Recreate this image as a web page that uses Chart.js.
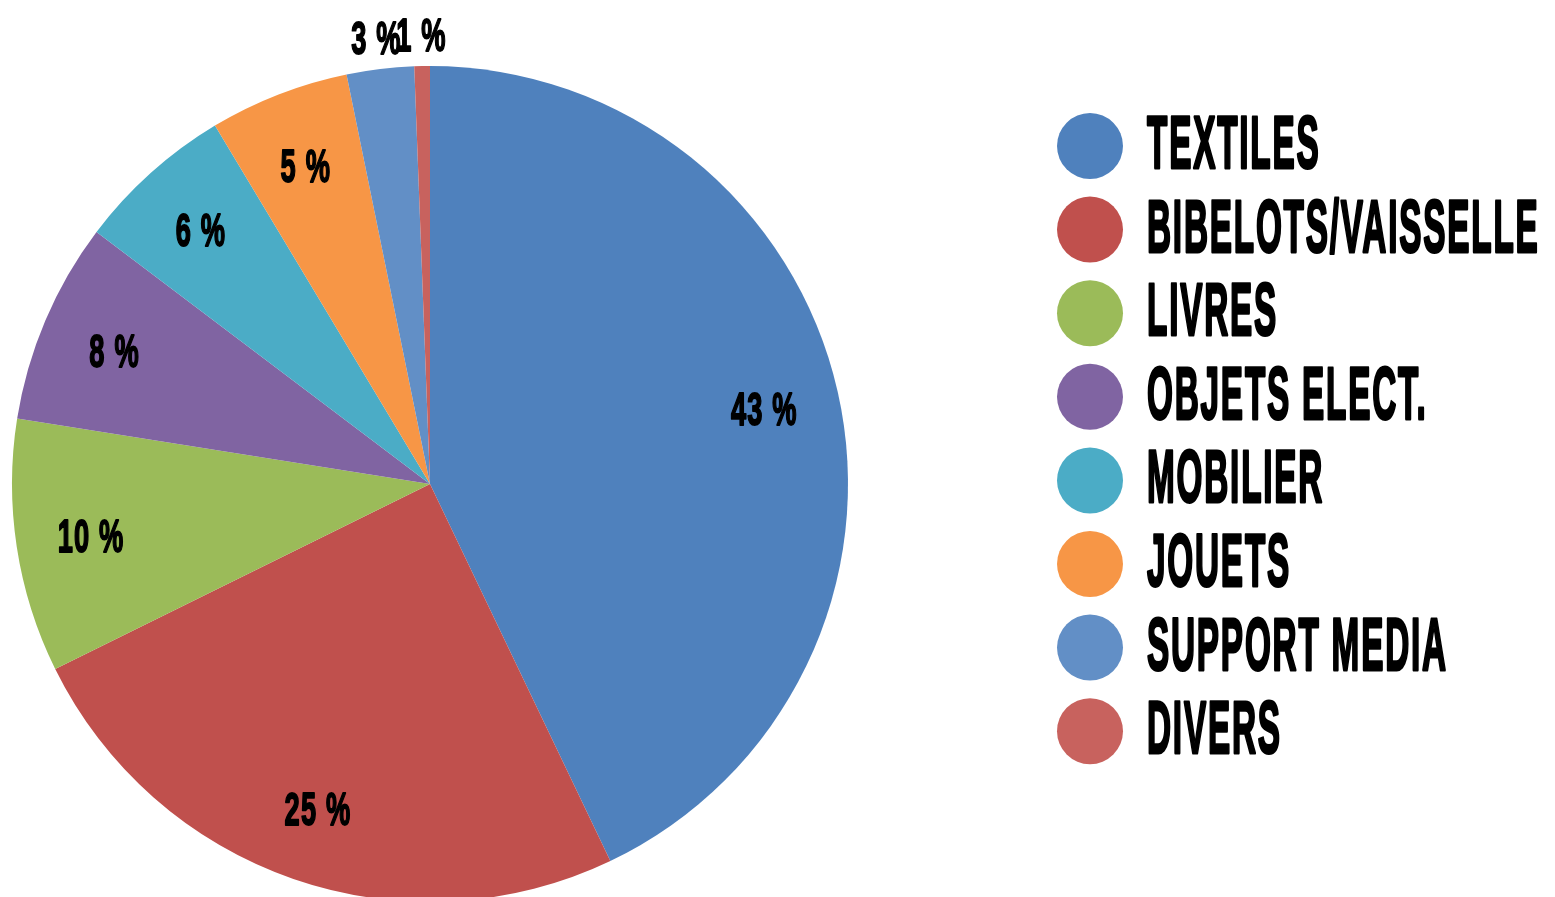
<!DOCTYPE html>
<html>
<head>
<meta charset="utf-8">
<script src="https://cdn.jsdelivr.net/npm/chart.js@4.4.1/dist/chart.umd.min.js"></script>
<style>
  html, body { margin: 0; padding: 0; background: #fff; overflow: hidden; }
  #wrap { position: absolute; left: 0; top: 0; width: 1555px; height: 940px; }
</style>
</head>
<body>
<div id="wrap"><canvas id="piechart"></canvas></div>
<script>
const categories = ['TEXTILES', 'BIBELOTS/VAISSELLE', 'LIVRES', 'OBJETS ELECT.', 'MOBILIER', 'JOUETS', 'SUPPORT MEDIA', 'DIVERS'];
const shares = [42.9, 24.8, 9.8, 7.8, 6.1, 5.4, 2.6, 0.6];
const sliceColors = ['#4F81BD', '#C0504D', '#9BBB59', '#8064A2', '#4BACC6', '#F79646', '#628FC6', '#C8625E'];

const FONT = '"Liberation Sans", Arial, sans-serif';

// squeeze text horizontally to get the narrow poster look
function narrowText(ctx, text, x, y, size, sx, align, spacing) {
	ctx.save();
	ctx.translate(x, y);
	ctx.scale(sx, 1);
	ctx.font = 'bold ' + size + 'px ' + FONT;
	ctx.letterSpacing = Math.round(size * spacing) + 'px';
	ctx.textAlign = align;
	ctx.textBaseline = 'alphabetic';
	ctx.fillStyle = '#000';
	ctx.strokeStyle = '#000';
	ctx.lineWidth = size * 0.04;
	ctx.lineJoin = 'round';
	ctx.fillText(text, 0, 0);
	ctx.strokeText(text, 0, 0);
	ctx.restore();
}

const pctLabels = {
	id: 'pctLabels',
	afterDatasetsDraw(chart) {
		const ctx = chart.ctx;
		const meta = chart.getDatasetMeta(0);
		meta.data.forEach((arc, i) => {
			const p = arc.getProps(['x', 'y', 'startAngle', 'endAngle', 'outerRadius'], true);
			const mid = (p.startAngle + p.endAngle) / 2;
			const r = shares[i] < 4 ? p.outerRadius + 32 : p.outerRadius * 0.82;
			const lx = p.x + Math.cos(mid) * r;
			const ly = p.y + Math.sin(mid) * r;
			narrowText(ctx, Math.round(shares[i]) + ' %', lx, ly + 17, 47, 0.58, 'center', 0.04);
		});
	}
};

const sideLegend = {
	id: 'sideLegend',
	afterDraw(chart) {
		const ctx = chart.ctx;
		const colors = chart.data.datasets[0].backgroundColor;
		chart.data.labels.forEach((lab, i) => {
			const cy = 146 + i * 83.6;
			ctx.save();
			ctx.beginPath();
			ctx.arc(1090, cy, 33, 0, Math.PI * 2);
			ctx.fillStyle = colors[i];
			ctx.fill();
			ctx.restore();
			narrowText(ctx, lab, 1147, cy + 22, 74, 0.45, 'left', 0.06);
		});
	}
};

const pieconfig = {
	type: 'pie',
	data: {
		labels: categories,
		datasets: [{
			data: shares,
			backgroundColor: sliceColors,
			borderWidth: 0
		}]
	},
	options: {
		responsive: true,
		maintainAspectRatio: false,
		animation: false,
		layout: {
			padding: { left: 12, right: 707, top: 66, bottom: 38 }
		},
		plugins: {
			legend: { display: false },
			tooltip: { enabled: false }
		}
	},
	plugins: [pctLabels, sideLegend]
};

const piechart = new Chart(document.getElementById('piechart'), pieconfig);
</script>
</body>
</html>
